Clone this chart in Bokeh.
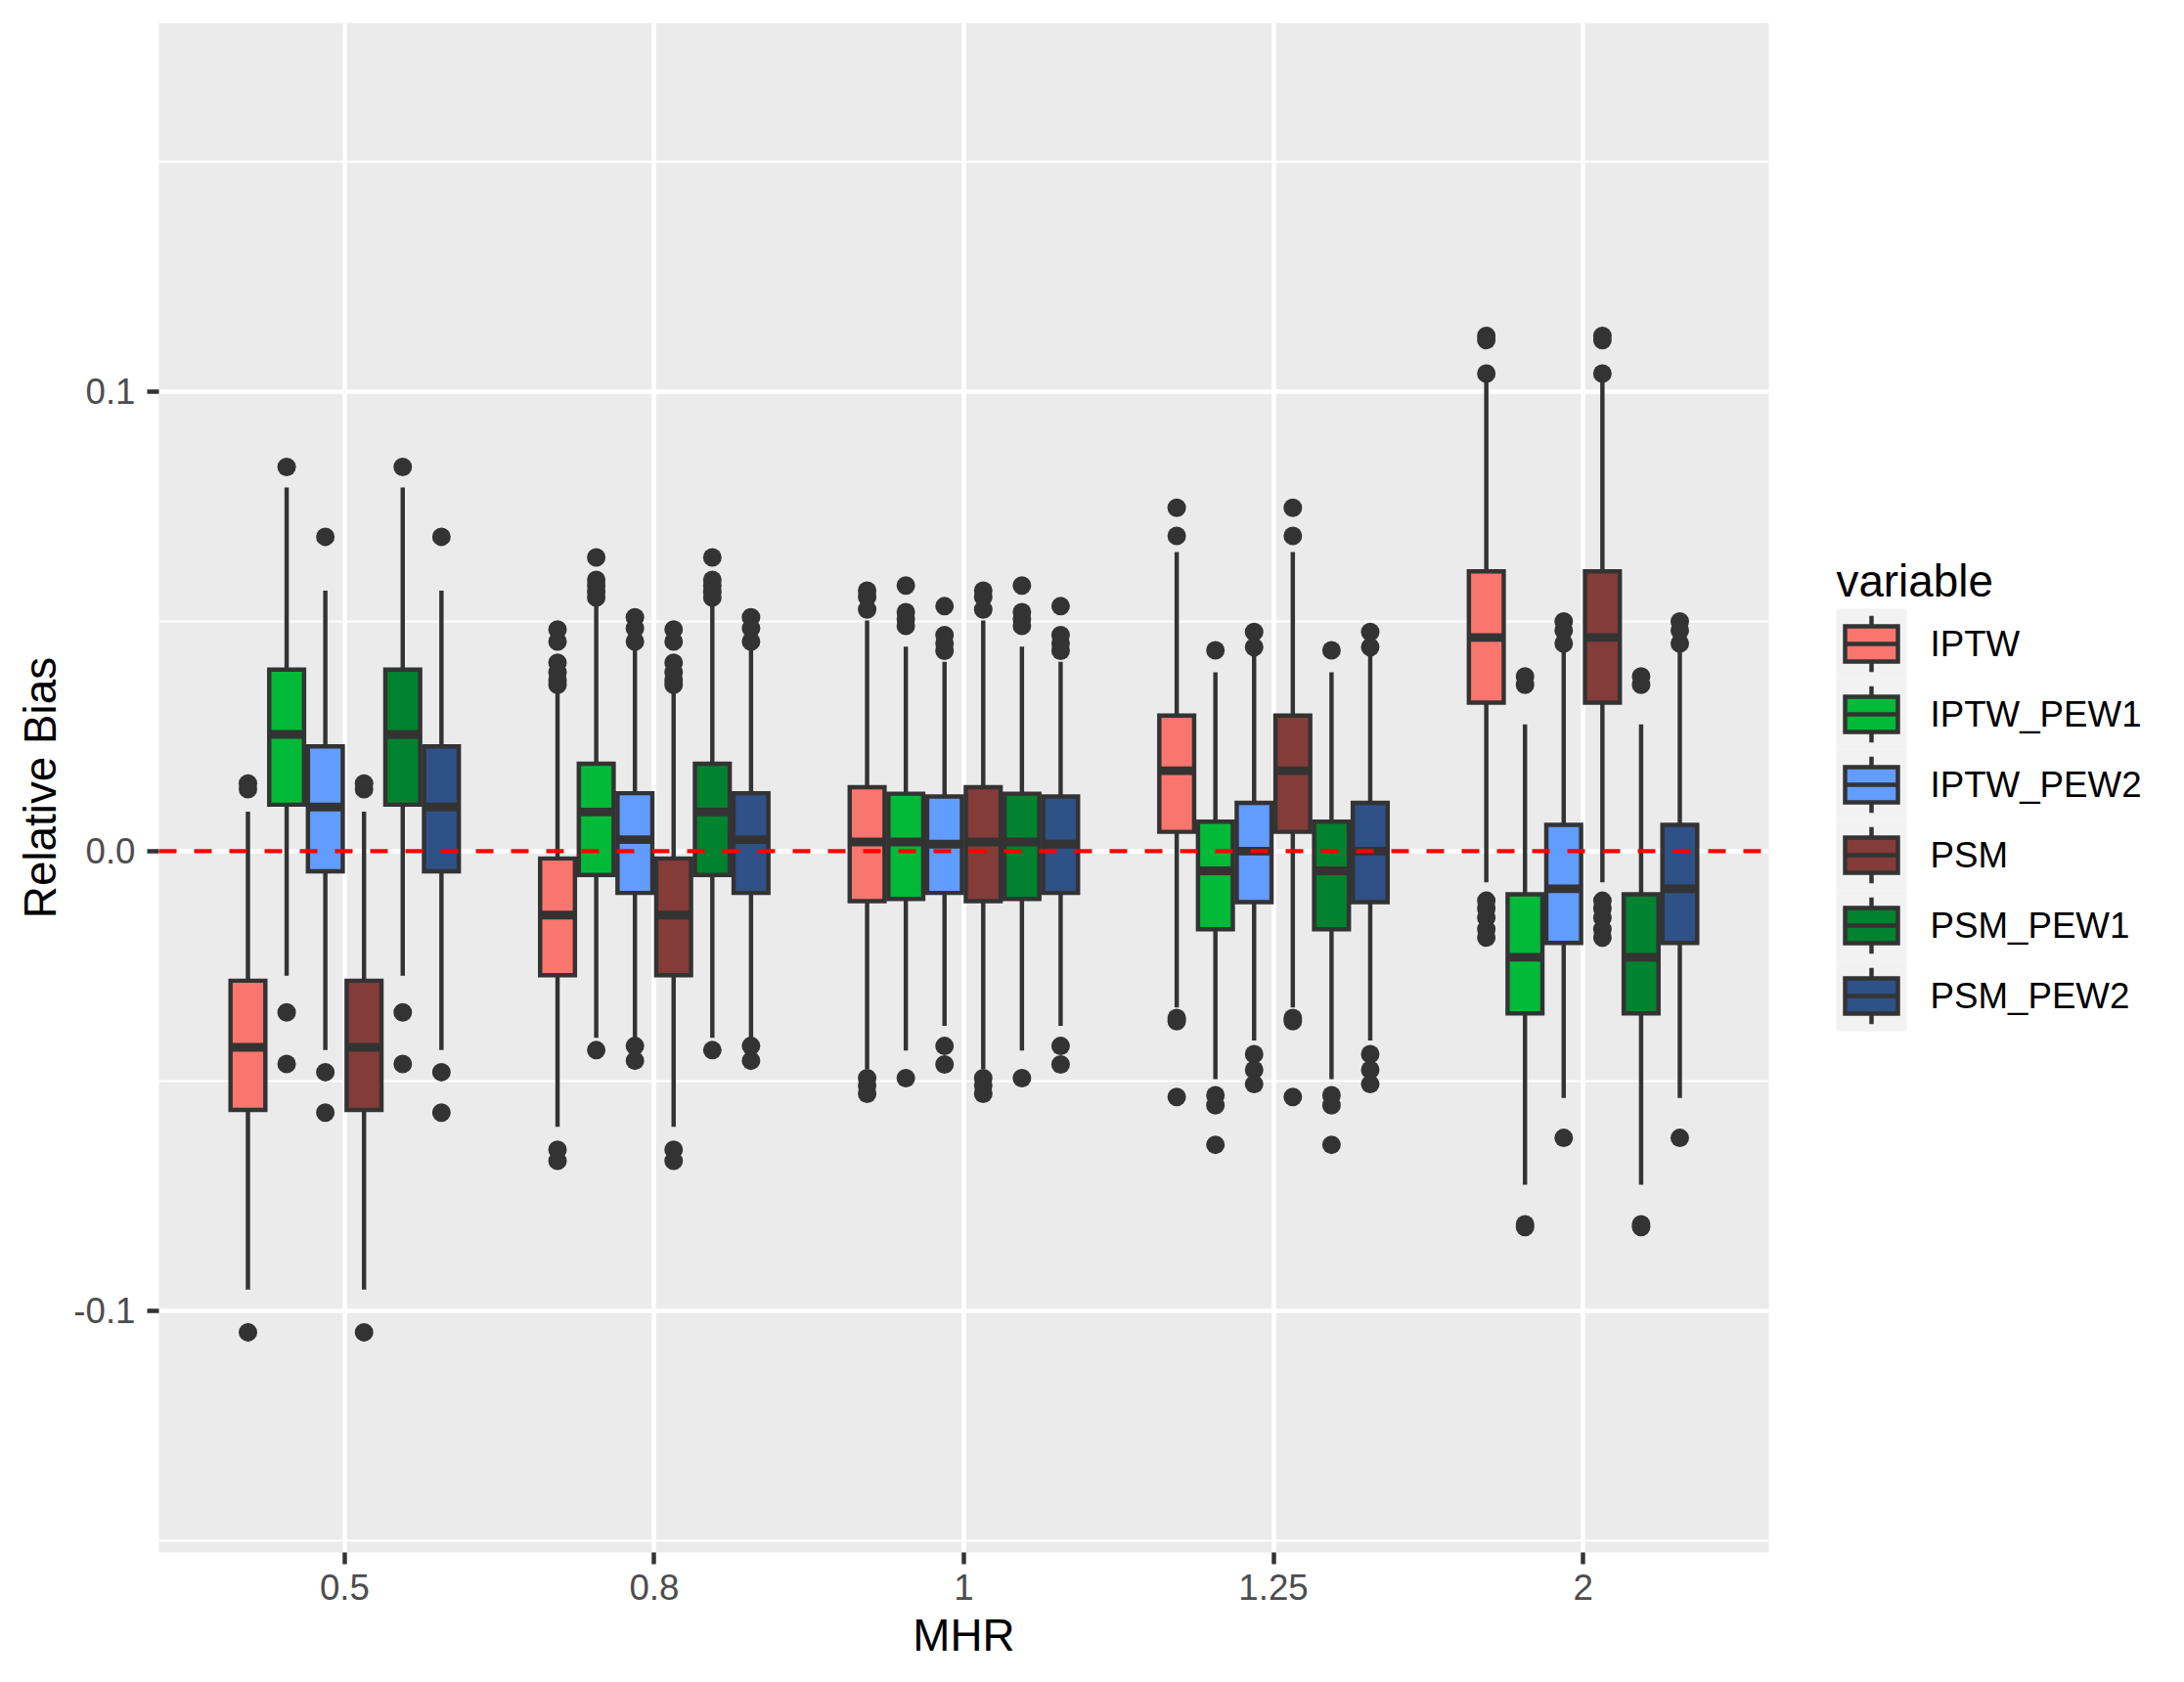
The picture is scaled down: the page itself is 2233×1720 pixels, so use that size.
from bokeh.plotting import figure
from bokeh.models import Range1d, FixedTicker, CustomJSTickFormatter, Span, ColumnDataSource
from bokeh.layouts import row
from bokeh.core.properties import value
from bokeh.embed import file_html
from bokeh.resources import INLINE

# ---------------- data ----------------
mhr = ["0.5", "0.8", "1", "1.25", "2"]
methods = ["IPTW", "IPTW_PEW1", "IPTW_PEW2", "PSM", "PSM_PEW1", "PSM_PEW2"]
colors = ["#F8766D", "#00BA38", "#619CFF", "#843C39", "#00822E", "#2E5187"]

iptw_q1 = [-0.0563, -0.0270, -0.0109, 0.0042, 0.0323]
iptw_med = [-0.0427, -0.0139, 0.0020, 0.0175, 0.0465]
iptw_q3 = [-0.0282, -0.0016, 0.0139, 0.0295, 0.0609]
iptw_lo = [-0.0954, -0.0600, -0.0474, -0.0340, -0.0068]
iptw_hi = [0.0086, 0.0344, 0.0502, 0.0651, 0.1023]
iptw_out = [[0.0147, 0.0135, -0.1047],
            [0.0482, 0.0456, 0.0410, 0.0389, 0.0372, 0.0362, -0.0650, -0.0674],
            [0.0567, 0.0553, 0.0526, -0.0494, -0.0510, -0.0528],
            [0.0747, 0.0686, -0.0363, -0.0370, -0.0535],
            [0.1121, 0.1112, 0.1039, -0.0108, -0.0125, -0.0145, -0.0170, -0.0188]]

pew1_q1 = [0.0101, -0.0052, -0.0104, -0.0170, -0.0353]
pew1_med = [0.0254, 0.0085, 0.0020, -0.0043, -0.0231]
pew1_q3 = [0.0395, 0.0190, 0.0125, 0.0064, -0.0094]
pew1_lo = [-0.0271, -0.0406, -0.0434, -0.0496, -0.0726]
pew1_hi = [0.0791, 0.0533, 0.0445, 0.0389, 0.0276]
pew1_out = [[0.0836, -0.0351, -0.0463],
            [0.0639, 0.0590, 0.0578, 0.0564, 0.0552, -0.0433],
            [0.0578, 0.0520, 0.0505, 0.0490, -0.0494],
            [0.0437, -0.0531, -0.0553, -0.0639],
            [0.0380, 0.0362, -0.0812, -0.0818]]

pew2_q1 = [-0.0044, -0.0091, -0.0091, -0.0111, -0.0200]
pew2_med = [0.0096, 0.0025, 0.0015, 0.0000, -0.0082]
pew2_q3 = [0.0228, 0.0126, 0.0119, 0.0105, 0.0057]
pew2_lo = [-0.0433, -0.0406, -0.0380, -0.0412, -0.0537]
pew2_hi = [0.0567, 0.0440, 0.0412, 0.0425, 0.0439]
pew2_out = [[0.0684, -0.0481, -0.0569],
            [0.0509, 0.0485, 0.0456, -0.0424, -0.0456],
            [0.0533, 0.0470, 0.0452, 0.0436, -0.0424, -0.0464],
            [0.0477, 0.0444, -0.0442, -0.0476, -0.0507],
            [0.0500, 0.0480, 0.0452, -0.0624]]

psm_q1 = [-0.0563, -0.0270, -0.0109, 0.0042, 0.0323]
psm_med = [-0.0427, -0.0139, 0.0020, 0.0175, 0.0465]
psm_q3 = [-0.0282, -0.0016, 0.0139, 0.0295, 0.0609]
psm_lo = [-0.0954, -0.0600, -0.0474, -0.0340, -0.0068]
psm_hi = [0.0086, 0.0344, 0.0502, 0.0651, 0.1023]
psm_out = [[0.0147, 0.0135, -0.1047],
           [0.0482, 0.0456, 0.0410, 0.0389, 0.0372, 0.0362, -0.0650, -0.0674],
           [0.0567, 0.0553, 0.0526, -0.0494, -0.0510, -0.0528],
           [0.0747, 0.0686, -0.0363, -0.0370, -0.0535],
           [0.1121, 0.1112, 0.1039, -0.0108, -0.0125, -0.0145, -0.0170, -0.0188]]

psm1_q1 = [0.0101, -0.0052, -0.0104, -0.0170, -0.0353]
psm1_med = [0.0254, 0.0085, 0.0020, -0.0043, -0.0231]
psm1_q3 = [0.0395, 0.0190, 0.0125, 0.0064, -0.0094]
psm1_lo = [-0.0271, -0.0406, -0.0434, -0.0496, -0.0726]
psm1_hi = [0.0791, 0.0533, 0.0445, 0.0389, 0.0276]
psm1_out = [[0.0836, -0.0351, -0.0463],
            [0.0639, 0.0590, 0.0578, 0.0564, 0.0552, -0.0433],
            [0.0578, 0.0520, 0.0505, 0.0490, -0.0494],
            [0.0437, -0.0531, -0.0553, -0.0639],
            [0.0380, 0.0362, -0.0812, -0.0818]]

psm2_q1 = [-0.0044, -0.0091, -0.0091, -0.0111, -0.0200]
psm2_med = [0.0096, 0.0025, 0.0015, 0.0000, -0.0082]
psm2_q3 = [0.0228, 0.0126, 0.0119, 0.0105, 0.0057]
psm2_lo = [-0.0433, -0.0406, -0.0380, -0.0412, -0.0537]
psm2_hi = [0.0567, 0.0440, 0.0412, 0.0425, 0.0439]
psm2_out = [[0.0684, -0.0481, -0.0569],
            [0.0509, 0.0485, 0.0456, -0.0424, -0.0456],
            [0.0533, 0.0470, 0.0452, 0.0436, -0.0424, -0.0464],
            [0.0477, 0.0444, -0.0442, -0.0476, -0.0507],
            [0.0500, 0.0480, 0.0452, -0.0624]]

series = [
    (iptw_q1, iptw_med, iptw_q3, iptw_lo, iptw_hi, iptw_out),
    (pew1_q1, pew1_med, pew1_q3, pew1_lo, pew1_hi, pew1_out),
    (pew2_q1, pew2_med, pew2_q3, pew2_lo, pew2_hi, pew2_out),
    (psm_q1, psm_med, psm_q3, psm_lo, psm_hi, psm_out),
    (psm1_q1, psm1_med, psm1_q3, psm1_lo, psm1_hi, psm1_out),
    (psm2_q1, psm2_med, psm2_q3, psm2_lo, psm2_hi, psm2_out),
]

# ---------------- styles ----------------
FONT = "Liberation Sans"
LW = 4.45
DARK = "#333333"
DODGE = 0.75
BOXW = DODGE / len(methods) * 0.9

box = dict(x=[], q1=[], q3=[], med=[], lo=[], hi=[], color=[], xl=[], xr=[])
pts = dict(x=[], y=[])
for j, (q1, med, q3, lo, hi, out) in enumerate(series):
    off = (j - (len(methods) - 1) / 2) * DODGE / len(methods)
    for i in range(len(mhr)):
        xc = i + 1 + off
        box["x"].append(xc)
        box["q1"].append(q1[i]); box["q3"].append(q3[i]); box["med"].append(med[i])
        box["lo"].append(lo[i]); box["hi"].append(hi[i])
        box["color"].append(colors[j])
        box["xl"].append(xc - BOXW / 2); box["xr"].append(xc + BOXW / 2)
        for v in out[i]:
            pts["x"].append(xc); pts["y"].append(v)

src = ColumnDataSource(box)
psrc = ColumnDataSource(pts)

W1, W2, H = 1842, 375, 1704
BT, BB = 23, 117
p = figure(width=W1, height=H, x_range=Range1d(0.4, 5.6), y_range=Range1d(-0.1526, 0.1802),
           output_backend="svg", toolbar_location=None,
           min_border_left=162, min_border_right=34, min_border_top=BT, min_border_bottom=BB)
p.background_fill_color = "#EBEBEB"
p.border_fill_color = "white"
p.outline_line_color = None

p.xaxis.ticker = FixedTicker(ticks=list(range(1, len(mhr) + 1)))
p.xaxis.major_label_overrides = {i + 1: c for i, c in enumerate(mhr)}
p.yaxis.ticker = FixedTicker(ticks=[-0.1, 0.0, 0.1], minor_ticks=[-0.15, -0.05, 0.05, 0.15])
p.yaxis.formatter = CustomJSTickFormatter(code="return tick.toFixed(1)")

for g in (p.xgrid, p.ygrid):
    g.grid_line_color = "white"
    g.grid_line_width = LW
p.ygrid.minor_grid_line_color = "white"
p.ygrid.minor_grid_line_width = LW / 2

for ax in (p.xaxis, p.yaxis):
    ax.axis_line_color = None
    ax.major_tick_line_color = DARK
    ax.major_tick_line_width = LW
    ax.major_tick_out = 12
    ax.major_tick_in = 0
    ax.minor_tick_line_color = None
    ax.major_label_text_font = FONT
    ax.major_label_text_font_size = "36.7px"
    ax.major_label_text_color = "#4D4D4D"
    ax.axis_label_text_font = FONT
    ax.axis_label_text_font_size = "45.8px"
    ax.axis_label_text_font_style = "normal"
    ax.axis_label_text_color = "black"
p.xaxis.axis_label = "MHR"
p.yaxis.axis_label = "Relative Bias"
p.xaxis.major_label_standoff = 10
p.yaxis.major_label_standoff = 12
p.xaxis.axis_label_standoff = 8
p.yaxis.axis_label_standoff = 5

p.segment(x0="x", y0="q3", x1="x", y1="hi", source=src, line_color=DARK, line_width=LW)
p.segment(x0="x", y0="q1", x1="x", y1="lo", source=src, line_color=DARK, line_width=LW)
p.vbar(x="x", width=BOXW, bottom="q1", top="q3", source=src, fill_color="color",
       line_color=DARK, line_width=LW, line_join="miter")
p.segment(x0="xl", y0="med", x1="xr", y1="med", source=src, line_color=DARK, line_width=2 * LW)
p.scatter(x="x", y="y", source=psrc, size=19, fill_color=DARK, line_color=None)

p.add_layout(Span(location=0, dimension="width", line_color="red", line_width=LW, line_dash="18 18"))

# ---------------- legend (separate panel, pixel coordinates) ----------------
lg = figure(width=W2, height=H, x_range=Range1d(0, W2), y_range=Range1d(H - BB, BT),
            x_axis_type=None, y_axis_type=None, output_backend="svg", toolbar_location=None,
            min_border_left=0, min_border_right=0, min_border_top=BT, min_border_bottom=BB)
lg.grid.visible = False
lg.outline_line_color = None
lg.background_fill_color = "white"
lg.border_fill_color = "white"

KEY = 72
k_left, k_top = 35, 622
n = len(methods)
cy = [k_top + KEY * (i + 0.5) for i in range(n)]
cx = k_left + KEY / 2
lsrc = ColumnDataSource(dict(
    top=[k_top + KEY * i for i in range(n)],
    bottom=[k_top + KEY * (i + 1) for i in range(n)],
    cy=cy, color=colors, label=methods,
    bt=[c - KEY * 0.25 for c in cy], bb=[c + KEY * 0.25 for c in cy],
    wt=[c - KEY * 0.4 for c in cy], wb=[c + KEY * 0.4 for c in cy],
))
lg.quad(left=k_left, right=k_left + KEY, top="top", bottom="bottom", source=lsrc,
        fill_color="#F2F2F2", line_color=None)
lg.segment(x0=cx, y0="wt", x1=cx, y1="bt", source=lsrc, line_color=DARK, line_width=LW)
lg.segment(x0=cx, y0="bb", x1=cx, y1="wb", source=lsrc, line_color=DARK, line_width=LW)
lg.quad(left=cx - KEY * 0.375, right=cx + KEY * 0.375, top="bt", bottom="bb", source=lsrc,
        fill_color="color", line_color=DARK, line_width=LW, line_join="miter")
lg.segment(x0=cx - KEY * 0.375, y0="cy", x1=cx + KEY * 0.375, y1="cy", source=lsrc,
           line_color=DARK, line_width=LW)
lg.text(x=k_left + KEY + 24, y="cy", text="label", source=lsrc, text_font=value(FONT),
        text_font_size="36.7px", text_color="black", text_baseline="middle", text_align="left")
lg.text(x=[k_left], y=[594], text=["variable"], text_font=value(FONT), text_font_size="45.8px",
        text_color="black", text_baseline="alphabetic", text_align="left")

layout = row(p, lg, spacing=0)
open("out.html", "w").write(file_html(layout, INLINE))
